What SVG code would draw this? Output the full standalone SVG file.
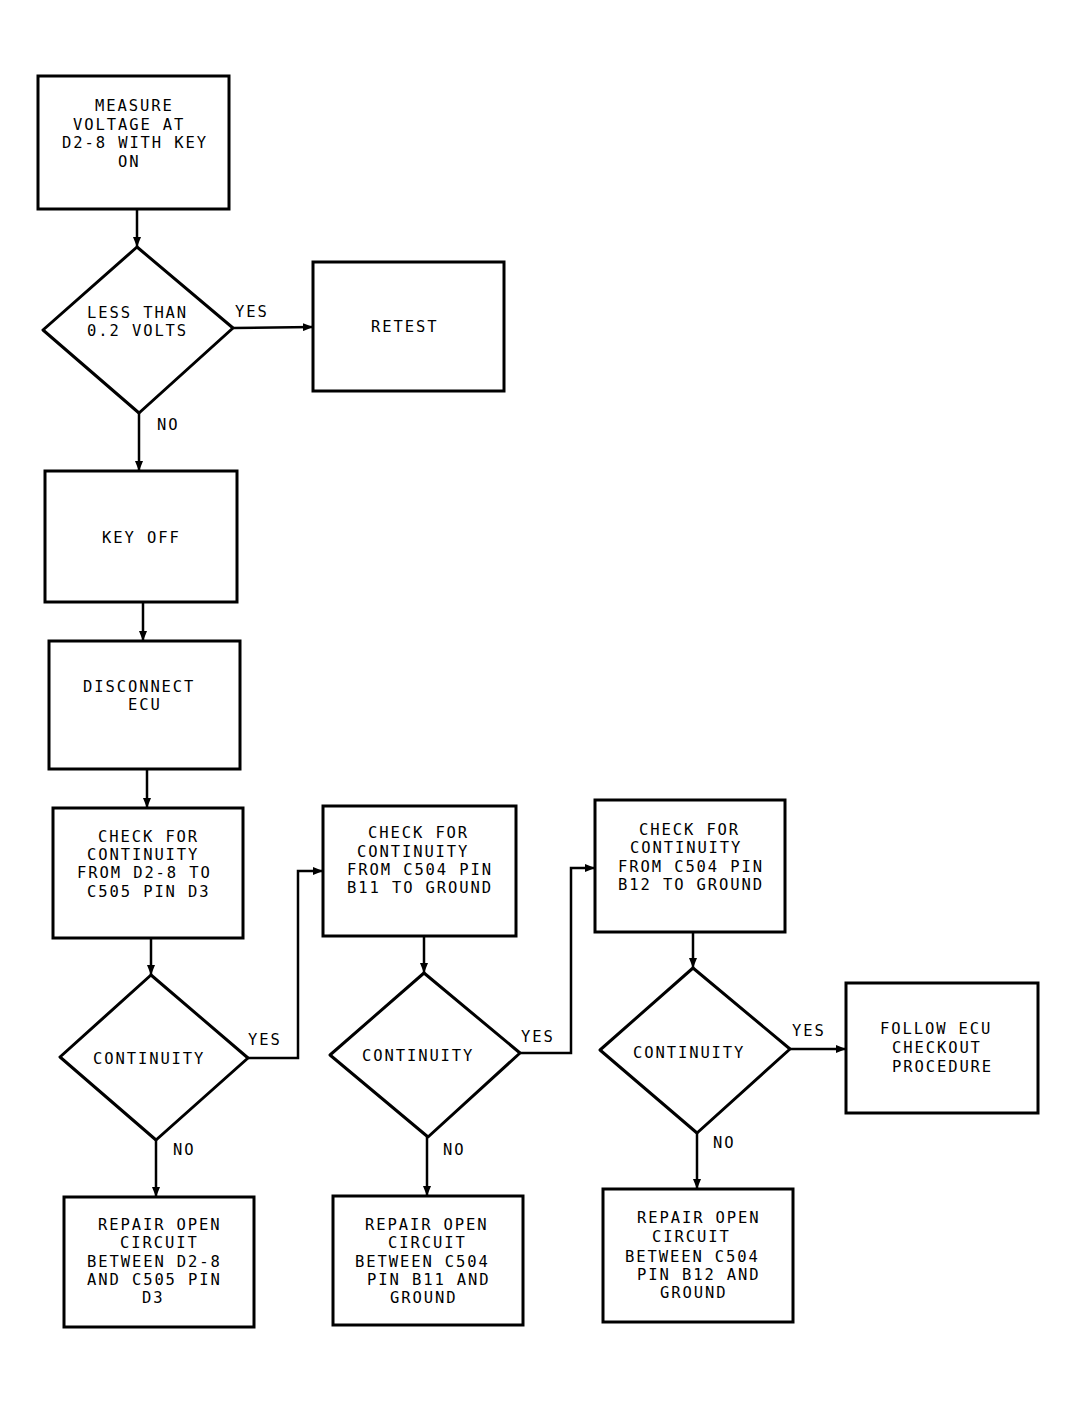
<svg xmlns="http://www.w3.org/2000/svg" width="1077" height="1404" viewBox="0 0 1077 1404">
<defs>
<marker id="ah" markerUnits="userSpaceOnUse" markerWidth="10" markerHeight="8" refX="10" refY="4" orient="auto">
<path d="M0,0 L10,4 L0,8 z" fill="#000"/>
</marker>
<style>
.box{fill:#fff;stroke:#000;stroke-width:3}
.dia{fill:#fff;stroke:#000;stroke-width:3;stroke-linejoin:round}
.con{fill:none;stroke:#000;stroke-width:2.5;marker-end:url(#ah)}
text{font-family:"DejaVu Sans Mono","Liberation Mono",monospace;font-size:15.5px;letter-spacing:1.9px;fill:#000}
</style>
</defs>
<rect width="1077" height="1404" fill="#fff"/>
<g id="connectors">
<path class="con" d="M137,209 L137,247"/>
<path class="con" d="M233,328 L313,327"/>
<path class="con" d="M139,413 L139,471"/>
<path class="con" d="M143,602 L143,641"/>
<path class="con" d="M147,769 L147,808"/>
<path class="con" d="M151,938 L151,975"/>
<path class="con" d="M248,1058 L298,1058 L298,871 L323,871"/>
<path class="con" d="M156,1140 L156,1197"/>
<path class="con" d="M424,936 L424,973"/>
<path class="con" d="M520,1053 L571,1053 L571,868 L595,868"/>
<path class="con" d="M427,1137 L427,1196"/>
<path class="con" d="M693,932 L693,968"/>
<path class="con" d="M790,1049 L846,1049"/>
<path class="con" d="M697,1133 L697,1189"/>
<text x="235" y="317">YES</text>
<text x="157" y="430">NO</text>
<text x="248" y="1045">YES</text>
<text x="173" y="1155">NO</text>
<text x="521" y="1042">YES</text>
<text x="443" y="1155">NO</text>
<text x="792" y="1036">YES</text>
<text x="713" y="1148">NO</text>
</g>
<g id="measure">
<rect class="box" x="38" y="76" width="191" height="133"/>
<text x="95" y="111">MEASURE</text>
<text x="73" y="130">VOLTAGE AT</text>
<text x="62" y="148">D2-8 WITH KEY</text>
<text x="118" y="167">ON</text>
</g>
<g id="lessthan">
<path class="dia" d="M137,247 L233,328 L139,413 L43,330 Z"/>
<text x="87" y="318">LESS THAN</text>
<text x="87" y="336">0.2 VOLTS</text>
</g>
<g id="retest">
<rect class="box" x="313" y="262" width="191" height="129"/>
<text x="371" y="332">RETEST</text>
</g>
<g id="keyoff">
<rect class="box" x="45" y="471" width="192" height="131"/>
<text x="102" y="543">KEY OFF</text>
</g>
<g id="disconnect">
<rect class="box" x="49" y="641" width="191" height="128"/>
<text x="83" y="692">DISCONNECT</text>
<text x="128" y="710">ECU</text>
</g>
<g id="check1">
<rect class="box" x="53" y="808" width="190" height="130"/>
<text x="98" y="842">CHECK FOR</text>
<text x="87" y="860">CONTINUITY</text>
<text x="77" y="878">FROM D2-8 TO</text>
<text x="87" y="897">C505 PIN D3</text>
</g>
<g id="cont1">
<path class="dia" d="M151,975 L248,1058 L156,1140 L60,1057 Z"/>
<text x="93" y="1064">CONTINUITY</text>
</g>
<g id="repair1">
<rect class="box" x="64" y="1197" width="190" height="130"/>
<text x="98" y="1230">REPAIR OPEN</text>
<text x="120" y="1248">CIRCUIT</text>
<text x="87" y="1267">BETWEEN D2-8</text>
<text x="87" y="1285">AND C505 PIN</text>
<text x="142" y="1303">D3</text>
</g>
<g id="check2">
<rect class="box" x="323" y="806" width="193" height="130"/>
<text x="368" y="838">CHECK FOR</text>
<text x="357" y="857">CONTINUITY</text>
<text x="347" y="875">FROM C504 PIN</text>
<text x="347" y="893">B11 TO GROUND</text>
</g>
<g id="cont2">
<path class="dia" d="M424,973 L520,1053 L428,1137 L330,1055 Z"/>
<text x="362" y="1061">CONTINUITY</text>
</g>
<g id="repair2">
<rect class="box" x="333" y="1196" width="190" height="129"/>
<text x="365" y="1230">REPAIR OPEN</text>
<text x="388" y="1248">CIRCUIT</text>
<text x="355" y="1267">BETWEEN C504</text>
<text x="367" y="1285">PIN B11 AND</text>
<text x="390" y="1303">GROUND</text>
</g>
<g id="check3">
<rect class="box" x="595" y="800" width="190" height="132"/>
<text x="639" y="835">CHECK FOR</text>
<text x="630" y="853">CONTINUITY</text>
<text x="618" y="872">FROM C504 PIN</text>
<text x="618" y="890">B12 TO GROUND</text>
</g>
<g id="cont3">
<path class="dia" d="M693,968 L790,1049 L697,1133 L600,1050 Z"/>
<text x="633" y="1058">CONTINUITY</text>
</g>
<g id="follow">
<rect class="box" x="846" y="983" width="192" height="130"/>
<text x="880" y="1034">FOLLOW ECU</text>
<text x="892" y="1053">CHECKOUT</text>
<text x="892" y="1072">PROCEDURE</text>
</g>
<g id="repair3">
<rect class="box" x="603" y="1189" width="190" height="133"/>
<text x="637" y="1223">REPAIR OPEN</text>
<text x="652" y="1242">CIRCUIT</text>
<text x="625" y="1262">BETWEEN C504</text>
<text x="637" y="1280">PIN B12 AND</text>
<text x="660" y="1298">GROUND</text>
</g>
</svg>
